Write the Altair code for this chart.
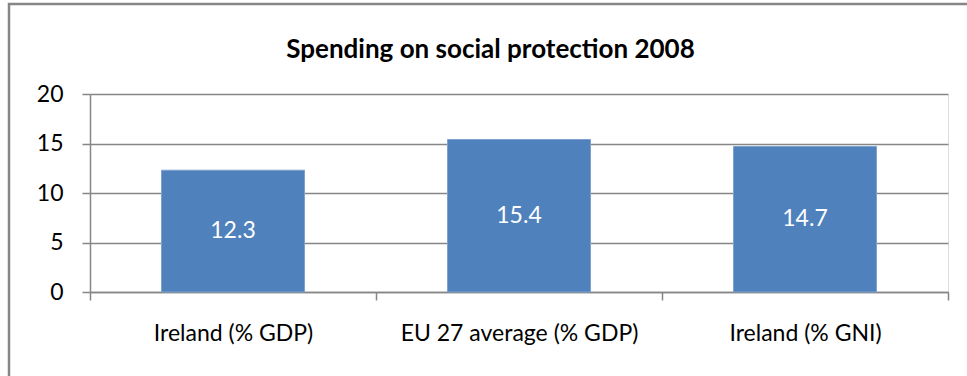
import altair as alt
import pandas as pd

categories = ["Ireland (% GDP)", "EU 27 average (% GDP)", "Ireland (% GNI)"]
values = [12.3, 15.4, 14.7]
labels = ["12.3", "15.4", "14.7"]
y_ticks = [0, 5, 10, 15, 20]
title_text = "Spending on social protection 2008"

df = pd.DataFrame({"cat": categories, "val": values, "lab": labels})

FONT = "Lato"
GRAY = "#868686"

x_enc = alt.X(
    "cat:N",
    sort=categories,
    title=None,
    scale=alt.Scale(paddingInner=0, paddingOuter=0),
    axis=alt.Axis(
        labelAngle=0,
        labelFontSize=23,
        labelFont=FONT,
        labelColor="#000000",
        labelPadding=22,
        labelLimit=0,
        tickBand="extent",
        tickSize=8,
        tickColor=GRAY,
        domainColor=GRAY,
        tickWidth=1.5,
        domainWidth=1.5,
        grid=False,
    ),
)

y_enc = alt.Y(
    "val:Q",
    title=None,
    scale=alt.Scale(domain=[0, 20], nice=False),
    axis=alt.Axis(
        values=y_ticks,
        labelFontSize=23,
        labelFont=FONT,
        labelColor="#000000",
        labelPadding=19,
        tickSize=8,
        tickColor=GRAY,
        domainColor=GRAY,
        gridColor=GRAY,
        gridWidth=1.5,
        tickWidth=1.5,
        domainWidth=1.5,
    ),
)

bars = alt.Chart(df).mark_bar(
    color="#4F81BD", stroke="#7EA1D0", strokeWidth=1,
    width=alt.RelativeBandSize(0.5),
).encode(x=x_enc, y=y_enc)

text = alt.Chart(df).mark_text(
    color="#FFFFFF", font=FONT, fontSize=23, baseline="middle"
).encode(
    x=alt.X("cat:N", sort=categories),
    y=alt.Y("mid:Q"),
    text="lab:N",
).transform_calculate(mid="datum.val / 2")

frame = alt.Chart(df).mark_rect(
    fill=None, stroke=GRAY, strokeWidth=2.5
).encode(
    x=alt.value(-81), x2=alt.value(900), y=alt.value(-90), y2=alt.value(300)
).transform_filter("datum.cat == 'Ireland (% GDP)'")

title = alt.Chart(df).mark_text(
    text=title_text, font=FONT, fontSize=26, fontWeight="bold",
    color="#000000", align="center", baseline="alphabetic",
).encode(
    x=alt.value(400.5), y=alt.value(-36)
).transform_filter("datum.cat == 'Ireland (% GDP)'")

chart = alt.layer(frame, bars, text, title).properties(
    width=858,
    height=198,
    autosize=alt.AutoSizeParams(type="none"),
    padding={"left": 90, "top": 94, "right": 19, "bottom": 84},
).configure_view(stroke=None).configure(background="#FFFFFF")

chart.save("out.html", embed_options={"renderer": "svg", "actions": False})
